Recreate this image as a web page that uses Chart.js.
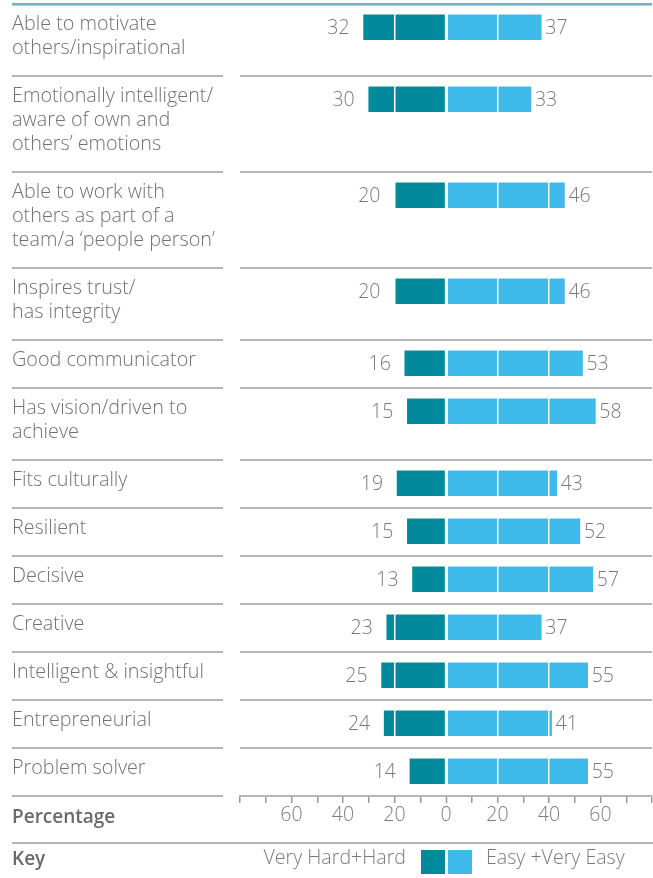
<!DOCTYPE html>
<html>
<head>
<meta charset="utf-8">
<script src="https://cdn.jsdelivr.net/npm/chart.js@4.4.0/dist/chart.umd.min.js"></script>
<style>
  html, body { margin: 0; padding: 0; background: #fff; }
  #wrap { position: relative; width: 653px; height: 878px; font-family: "Open Sans", sans-serif; color: #707070; }
  #chart-box { position: absolute; left: 0; top: 0; width: 653px; height: 878px; }
  .txt { position: absolute; line-height: 24px; white-space: nowrap; }
  .bold { font-weight: 600; font-size: 19px; color: #6a6a6a; }
  .key-text { font-size: 19.6px; font-weight: 300; color: #7a7a7a; }
  .swatch { position: absolute; top: 850px; width: 24px; height: 24px; }
  .rule { position: absolute; height: 2px; background: #b5b5b5; }
</style>
</head>
<body>
<div id="wrap">
  <div id="chart-box"><canvas id="chart" width="653" height="878"></canvas></div>
  <div class="txt bold" style="left:12px; top:804px;">Percentage</div>
  <div class="rule" style="left:12px; width:641px; top:842px;"></div>
  <div class="txt bold" style="left:12px; top:846px;">Key</div>
  <div class="txt key-text" style="right:247px; top:845px;">Very Hard+Hard</div>
  <div class="swatch" style="left:421px; background:#02899a;"></div>
  <div class="swatch" style="left:448px; background:#3dbae9;"></div>
  <div class="txt key-text" style="left:486px; top:845px;">Easy +Very Easy</div>
</div>
<script>
  const CATEGORIES = [
    ["Able to motivate", "others/inspirational"],
    ["Emotionally intelligent/", "aware of own and", "others\u2019 emotions"],
    ["Able to work with", "others as part of a", "team/a \u2018people person\u2019"],
    ["Inspires trust/", "has integrity"],
    ["Good communicator"],
    ["Has vision/driven to", "achieve"],
    ["Fits culturally"],
    ["Resilient"],
    ["Decisive"],
    ["Creative"],
    ["Intelligent & insightful"],
    ["Entrepreneurial"],
    ["Problem solver"],
  ];
  const HARD_VALUES = [32, 30, 20, 20, 16, 15, 19, 15, 13, 23, 25, 24, 14];
  const EASY_VALUES = [37, 33, 46, 46, 53, 58, 43, 52, 57, 37, 55, 41, 55];
  const TICK_LABELS = [-60, -40, -20, 0, 20, 40, 60];

  const DARK = "#02899a";
  const LIGHT = "#3dbae9";
  const FONT = '"Open Sans", sans-serif';

  // each row is one text line taller than its label, in line units
  const rowStarts = [];
  let total = 0;
  CATEGORIES.forEach((lines) => {
    rowStarts.push(total);
    total += lines.length + 1;
  });
  const barCenters = rowStarts.map((s) => s + 0.97);

  const rowPlugin = {
    id: "rows",
    afterDraw(chart) {
      const { ctx, chartArea, scales: { x, y } } = chart;
      ctx.save();

      function hline(x1, x2, yy) {
        ctx.beginPath();
        ctx.moveTo(x1, yy);
        ctx.lineTo(x2, yy);
        ctx.stroke();
      }

      // top rule
      ctx.strokeStyle = "#3a9dad";
      ctx.lineWidth = 1.5;
      hline(12, chartArea.right, chartArea.top);
      ctx.strokeStyle = "#a3d8e1";
      ctx.lineWidth = 1;
      hline(12, chartArea.right, chartArea.top + 1.5);

      ctx.strokeStyle = "#b5b5b5";
      ctx.lineWidth = 2;
      rowStarts.forEach((start, i) => {
        if (i === 0) return;
        const yy = y.getPixelForValue(start);
        hline(12, 223, yy);
        hline(chartArea.left, chartArea.right, yy);
      });
      hline(12, 223, y.getPixelForValue(total));

      ctx.fillStyle = "#727272";
      ctx.font = `300 19.8px ${FONT}`;
      ctx.textBaseline = "alphabetic";
      ctx.textAlign = "left";
      CATEGORIES.forEach((lines, i) => {
        const top = y.getPixelForValue(rowStarts[i]);
        lines.forEach((text, j) => {
          ctx.fillText(text, 12, top + 25.5 + j * 24.3);
        });
      });

      ctx.fillStyle = "#7a7a7a";
      ctx.font = `300 19.5px ${FONT}`;
      barCenters.forEach((c, i) => {
        const cy = y.getPixelForValue(c) + 7;
        ctx.textAlign = "right";
        ctx.fillText(String(HARD_VALUES[i]), x.getPixelForValue(-HARD_VALUES[i]) - 14, cy);
        ctx.textAlign = "left";
        ctx.fillText(String(EASY_VALUES[i]), x.getPixelForValue(EASY_VALUES[i]) + 4, cy);
      });
      ctx.restore();
    },
  };

  new Chart(document.getElementById("chart"), {
    type: "bar",
    data: {
      datasets: [
        {
          label: "Very Hard+Hard",
          data: HARD_VALUES.map((v, i) => ({ x: -v, y: barCenters[i] })),
          backgroundColor: DARK,
          grouped: false,
          barThickness: 25,
        },
        {
          label: "Easy +Very Easy",
          data: EASY_VALUES.map((v, i) => ({ x: v, y: barCenters[i] })),
          backgroundColor: LIGHT,
          grouped: false,
          barThickness: 25,
        },
      ],
    },
    options: {
      indexAxis: "y",
      responsive: false,
      animation: false,
      devicePixelRatio: 1,
      layout: { padding: { left: 240, right: 0, top: 4, bottom: 34 } },
      plugins: { legend: { display: false }, tooltip: { enabled: false } },
      scales: {
        x: {
          type: "linear",
          min: -80,
          max: 80,
          afterFit(scale) {
            scale.height = 48;
          },
          ticks: {
            stepSize: 10,
            autoSkip: false,
            maxRotation: 0,
            padding: 1,
            color: "#7d7d7d",
            font: { family: FONT, size: 19.5, weight: 300 },
            callback(value) {
              return TICK_LABELS.includes(value) ? String(Math.abs(value)) : "";
            },
          },
          grid: {
            z: 1,
            color(ctx) {
              return ctx.tick && ctx.tick.value % 20 === 0 ? "#ffffff" : "rgba(0,0,0,0)";
            },
            lineWidth(ctx) {
              return ctx.tick && ctx.tick.value === 0 ? 3 : 1.5;
            },
            tickLength: 7,
            tickColor: "#9a9a9a",
            tickWidth: 1.5,
          },
          border: { color: "#b5b5b5", width: 2, z: 2 },
        },
        y: {
          type: "linear",
          reverse: true,
          offset: false,
          min: 0,
          max: total,
          display: false,
        },
      },
    },
    plugins: [rowPlugin],
  });
</script>
</body>
</html>
